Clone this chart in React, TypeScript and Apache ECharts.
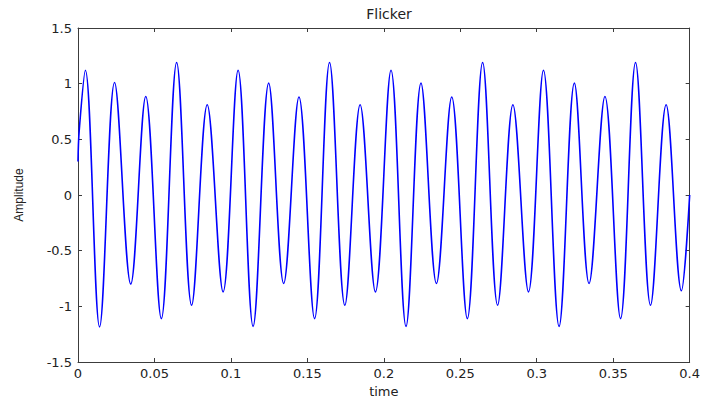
import React, { useEffect, useRef } from "react";
import * as echarts from "echarts";

// Time stamps (s): start value, then peak / trough of every cycle, end value
const time: number[] = [
  0, 0.0008,
  0.0048, 0.0141,
  0.0239, 0.0345,
  0.0443, 0.0545,
  0.0645, 0.0743,
  0.0845, 0.0949,
  0.1047, 0.1145,
  0.1247, 0.1345,
  0.1445, 0.1547,
  0.1645, 0.1745,
  0.1845, 0.1945,
  0.2047, 0.2145,
  0.2243, 0.2344,
  0.2444, 0.2546,
  0.2646, 0.2744,
  0.2844, 0.2946,
  0.3044, 0.3146,
  0.3246, 0.3342,
  0.3446, 0.3548,
  0.3646, 0.3744,
  0.3846, 0.3946,
  0.4,
];

const amplitude: number[] = [
  0.3, 0.58,
  1.12, -1.185,
  1.01, -0.8,
  0.885, -1.11,
  1.19, -0.99,
  0.81, -0.87,
  1.12, -1.18,
  1.005, -0.795,
  0.88, -1.11,
  1.19, -0.99,
  0.81, -0.87,
  1.12, -1.18,
  1.005, -0.795,
  0.88, -1.11,
  1.19, -0.99,
  0.81, -0.87,
  1.12, -1.18,
  1.005, -0.795,
  0.885, -1.11,
  1.19, -0.99,
  0.81, -0.86,
  0,
];

const xTicks = { min: 0, max: 0.4, interval: 0.05 };
const yTicks = { min: -1.5, max: 1.5, interval: 0.5 };

const TICK_FONT = "DejaVu Sans";
const FRAME = "#3c3c3c";
const TEXT = "#222222";

export default function App() {
  const ref = useRef<HTMLDivElement>(null);
  useEffect(() => {
    if (!ref.current) return;
    const chart = echarts.init(ref.current, undefined, { renderer: "svg" });
    const data = time.map((t, i) => [t, amplitude[i]]);
    const axisLine = { show: true, onZero: false, lineStyle: { color: FRAME, width: 1 } };
    const axisTick = { show: true, inside: true, length: 4, lineStyle: { color: FRAME } };
    chart.setOption({
      animation: false,
      backgroundColor: "#ffffff",
      title: {
        text: "Flicker",
        left: 384,
        top: 2,
        textAlign: "center",
        textStyle: { fontFamily: TICK_FONT, fontSize: 14, fontWeight: "normal", color: TEXT },
      },
      grid: { left: 78, right: 11, top: 28, bottom: 41 },
      xAxis: [
        {
          type: "value",
          position: "bottom",
          ...xTicks,
          axisLine,
          axisTick,
          splitLine: { show: false },
          axisLabel: { color: TEXT, fontFamily: TICK_FONT, fontSize: 13, margin: 5 },
          name: "time",
          nameLocation: "middle",
          nameGap: 23,
          nameTextStyle: { color: TEXT, fontFamily: TICK_FONT, fontSize: 13 },
        },
        {
          type: "value",
          position: "top",
          ...xTicks,
          axisLine,
          axisTick,
          splitLine: { show: false },
          axisLabel: { show: false },
        },
      ],
      yAxis: [
        {
          type: "value",
          position: "left",
          ...yTicks,
          axisLine,
          axisTick,
          splitLine: { show: false },
          axisLabel: { color: TEXT, fontFamily: TICK_FONT, fontSize: 13, margin: 6 },
          name: "Amplitude",
          nameLocation: "middle",
          nameRotate: 90,
          nameGap: 53,
          nameTextStyle: { color: TEXT, fontFamily: "Liberation Sans", fontSize: 12 },
        },
        {
          type: "value",
          position: "right",
          ...yTicks,
          axisLine,
          axisTick,
          splitLine: { show: false },
          axisLabel: { show: false },
        },
      ],
      series: [
        {
          type: "line",
          xAxisIndex: 0,
          yAxisIndex: 0,
          data,
          smooth: 0.36,
          showSymbol: false,
          lineStyle: { color: "#0000ff", width: 1.6 },
        },
      ],
    });
    return () => chart.dispose();
  }, []);
  return (
    <div
      ref={ref}
      style={{ position: "fixed", left: 0, top: 0, width: 703, height: 403, background: "#fff" }}
    />
  );
}
